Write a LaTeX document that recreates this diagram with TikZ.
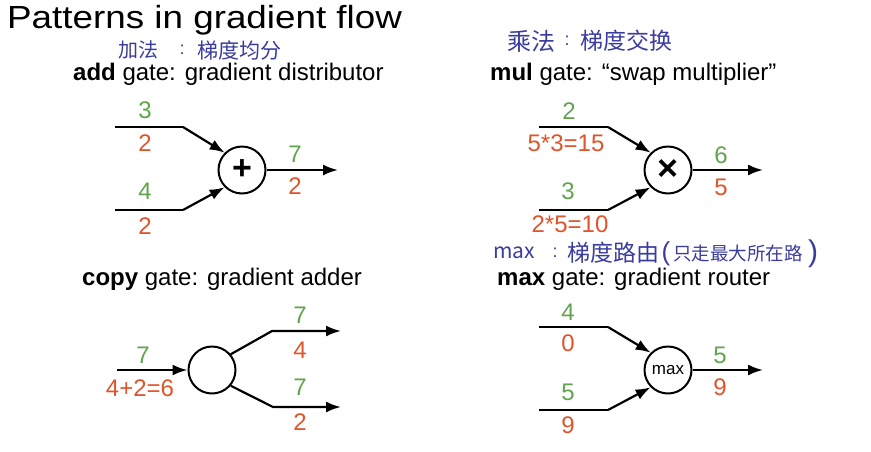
\documentclass[tikz,border=0pt]{standalone}
\usepackage{fontspec}
\setmainfont{Liberation Sans}
\newfontfamily\cjk{Noto Sans CJK SC}
\usetikzlibrary{arrows.meta}
\definecolor{gfw}{RGB}{98,164,78}
\definecolor{gbw}{RGB}{224,84,42}
\definecolor{hand}{RGB}{58,60,158}
\tikzset{
  gate/.style={circle, draw, line width=2pt, minimum size=47pt, inner sep=0pt},
  wire/.style={line width=2.2pt},
  arr/.style={wire, -{Latex[length=15pt,width=11pt]}},
  fw/.style={text=gfw, font=\fontsize{24}{24}\selectfont, inner sep=0pt},
  bw/.style={text=gbw, font=\fontsize{24}{24}\selectfont, inner sep=0pt},
  head/.style={anchor=base west, inner sep=0pt, font=\fontsize{24}{28}\selectfont},
  hw/.style={text=hand, inner sep=0pt, anchor=west},
}
\begin{document}
\begin{tikzpicture}[x=1pt,y=-1pt]
\useasboundingbox (0,0) rectangle (871,451);
% title
\node[anchor=base west, inner sep=0pt, font=\fontsize{32}{36}\selectfont] (title) at (7,28) {\scalebox{1.15}[1]{Patterns in gradient flow}};
% handwritten notes
\node[hw, font=\cjk\fontsize{20}{20}\selectfont] (h1a) at (118,50) {加法};
\node[hw, font=\fontsize{18}{18}\selectfont, anchor=center] (h1b) at (182,50) {:};
\node[hw, font=\cjk\fontsize{21}{21}\selectfont] (h1c) at (197,50) {梯度均分};
\node[hw, font=\cjk\fontsize{24}{24}\selectfont] (h2a) at (507,41) {乘法};
\node[hw, font=\fontsize{18}{18}\selectfont, anchor=center] (h2b) at (567,41) {:};
\node[hw, font=\cjk\fontsize{23}{23}\selectfont] (h2c) at (580,41) {梯度交换};
\node[hw, font=\cjk\fontsize{21}{21}\selectfont] (h3a) at (493,253) {max};
\node[hw, font=\fontsize{18}{18}\selectfont, anchor=center] (h3b) at (555,253) {:};
\node[hw, font=\cjk\fontsize{23}{23}\selectfont] (h3c) at (567,253) {梯度路由};
\node[hw, font=\fontsize{26}{26}\selectfont, anchor=center] (h3d) at (666,254) {(};
\node[hw, font=\cjk\fontsize{18.5}{18.5}\selectfont] (h3e) at (673,253) {只走最大所在路};
\node[hw, font=\fontsize{30}{30}\selectfont, anchor=center] (h3f) at (813,254) {)};
% headings
\node[head] (hadd) at (73,80) {\textbf{add} gate: gradient distributor};
\node[head] (hmul) at (490,80) {\textbf{mul} gate: “swap multiplier”};
\node[head] (hcopy) at (82,285) {\textbf{copy} gate: gradient adder};
\node[head] (hmax) at (497,285) {\textbf{max} gate: gradient router};
% ---------- add gate
\node[gate, font=\fontsize{34}{34}\selectfont\bfseries] (addg) at (242,170) {+};
\coordinate (a1s) at (115,127); \coordinate (a1k) at (183,127);
\coordinate (a2s) at (115,210); \coordinate (a2k) at (183,210);
\coordinate (ao) at (338,170);
\draw[wire] (a1s) -- (a1k);
\draw[arr] (a1k) -- (addg.135);
\draw[wire] (a2s) -- (a2k);
\draw[arr] (a2k) -- (addg.225);
\draw[arr] (addg.east) -- (ao);
\node[fw] (a1f) at (145,110) {3};
\node[bw] (a1b) at (145,143) {2};
\node[fw] (a2f) at (145,191) {4};
\node[bw] (a2b) at (145,226) {2};
\node[fw] (aof) at (295,154) {7};
\node[bw] (aob) at (295,186) {2};
% ---------- mul gate
\node[gate, font=\fontsize{36}{36}\selectfont\bfseries] (mulg) at (668,170) {×};
\coordinate (m1s) at (539,127); \coordinate (m1k) at (608,127);
\coordinate (m2s) at (539,210); \coordinate (m2k) at (608,210);
\coordinate (mo) at (763,170);
\draw[wire] (m1s) -- (m1k);
\draw[arr] (m1k) -- (mulg.135);
\draw[wire] (m2s) -- (m2k);
\draw[arr] (m2k) -- (mulg.225);
\draw[arr] (mulg.east) -- (mo);
\node[fw] (m1f) at (569,111) {2};
\node[bw] (m1b) at (566,143) {5*3=15};
\node[fw] (m2f) at (568,191) {3};
\node[bw] (m2b) at (570,224) {2*5=10};
\node[fw] (mof) at (721,155) {6};
\node[bw] (mob) at (721,187) {5};
% ---------- copy gate
\node[gate] (copyg) at (212,370) {};
\coordinate (c0) at (117,370);
\coordinate (c1k) at (272,331); \coordinate (c1e) at (341,331);
\coordinate (c2k) at (273,407); \coordinate (c2e) at (341,407);
\draw[arr] (c0) -- (copyg.west);
\draw[arr] (copyg.40) -- (c1k) -- (c1e);
\draw[arr] (copyg.-40) -- (c2k) -- (c2e);
\node[fw] (c0f) at (143,355) {7};
\node[bw] (c0b) at (140,388) {4+2=6};
\node[fw] (c1f) at (300,315) {7};
\node[bw] (c1b) at (300,350) {4};
\node[fw] (c2f) at (300,387) {7};
\node[bw] (c2b) at (300,422) {2};
% ---------- max gate
\node[gate, font=\fontsize{17}{17}\selectfont] (maxg) at (668,370) {max};
\coordinate (x1s) at (539,327); \coordinate (x1k) at (608,327);
\coordinate (x2s) at (539,410); \coordinate (x2k) at (608,410);
\coordinate (xo) at (763,370);
\draw[wire] (x1s) -- (x1k);
\draw[arr] (x1k) -- (maxg.135);
\draw[wire] (x2s) -- (x2k);
\draw[arr] (x2k) -- (maxg.225);
\draw[arr] (maxg.east) -- (xo);
\node[fw] (x1f) at (568,312) {4};
\node[bw] (x1b) at (568,343) {0};
\node[fw] (x2f) at (568,392) {5};
\node[bw] (x2b) at (568,425) {9};
\node[fw] (xof) at (720,355) {5};
\node[bw] (xob) at (720,387) {9};
\end{tikzpicture}
\end{document}
